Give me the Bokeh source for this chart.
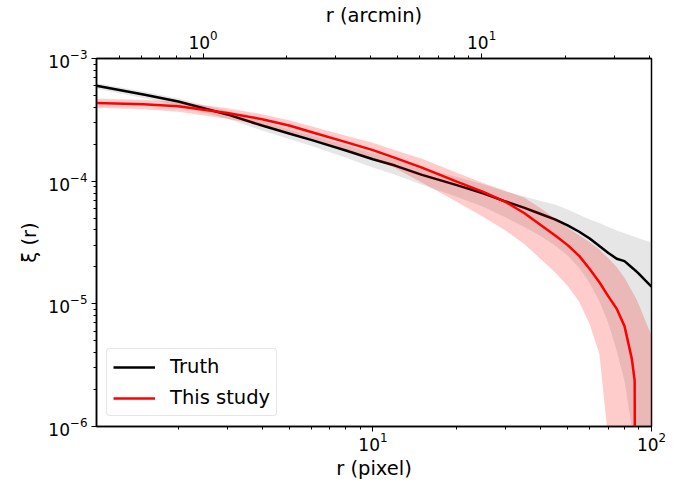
from bokeh.plotting import figure
from bokeh.models import (Range1d, LogAxis, LogScale, FixedTicker, LogTickFormatter,
                          Legend, LegendItem, ColumnDataSource)
from bokeh.embed import file_html
from bokeh.resources import INLINE

# ---- data ----
PIX_PER_ARCMIN = 2.455
r_pixel = [1.0175, 1.5, 2, 3, 4, 5, 6, 8, 10, 12, 15, 20, 25, 30, 35, 40, 45, 50,
           55, 60, 65, 70, 75, 80, 85, 87, 88, 90, 95, 100]
truth = [5.99e-4, 5.08e-4, 4.46e-4, 3.50e-4, 2.84e-4, 2.45e-4, 2.17e-4, 1.78e-4,
         1.51e-4, 1.34e-4, 1.125e-4, 9.28e-5, 7.93e-5, 6.82e-5, 6.05e-5, 5.40e-5,
         4.88e-5, 4.36e-5, 3.87e-5, 3.41e-5, 2.96e-5, 2.60e-5, 2.33e-5, 2.23e-5,
         1.98e-5, 1.89e-5, 1.85e-5, 1.76e-5, 1.55e-5, 1.38e-5]
truth_lo = [5.67e-4, 4.76e-4, 4.14e-4, 3.22e-4, 2.59e-4, 2.21e-4, 1.94e-4, 1.55e-4,
            1.29e-4, 1.13e-4, 9.33e-5, 7.48e-5, 6.15e-5, 5.05e-5, 4.24e-5, 3.58e-5,
            3.00e-5, 2.48e-5, 1.97e-5, 1.47e-5, 1.05e-5, 6.99e-6, 4.15e-6, 2.35e-6,
            9.85e-7, 5.3e-7, 1e-9, 1e-9, 1e-9, 1e-9]
truth_hi = [6.28e-4, 5.38e-4, 4.71e-4, 3.74e-4, 3.06e-4, 2.64e-4, 2.36e-4, 1.96e-4,
            1.68e-4, 1.50e-4, 1.28e-4, 1.08e-4, 9.38e-5, 8.23e-5, 7.51e-5, 6.90e-5,
            6.46e-5, 5.88e-5, 5.33e-5, 4.88e-5, 4.55e-5, 4.24e-5, 3.97e-5, 3.76e-5,
            3.59e-5, 3.52e-5, 3.49e-5, 3.43e-5, 3.28e-5, 3.16e-5]
study = [4.33e-4, 4.24e-4, 4.08e-4, 3.60e-4, 3.20e-4, 2.84e-4, 2.52e-4, 2.08e-4,
         1.79e-4, 1.55e-4, 1.29e-4, 9.93e-5, 8.14e-5, 6.75e-5, 5.48e-5, 4.39e-5,
         3.63e-5, 3.01e-5, 2.46e-5, 1.92e-5, 1.50e-5, 1.15e-5, 9.12e-6, 6.58e-6,
         3.56e-6, 2.37e-6, 1e-9, 1e-9, 1e-9, 1e-9]
study_lo = [3.97e-4, 3.86e-4, 3.68e-4, 3.23e-4, 2.86e-4, 2.51e-4, 2.22e-4, 1.80e-4,
            1.54e-4, 1.28e-4, 9.70e-5, 6.81e-5, 5.09e-5, 3.95e-5, 3.06e-5, 2.32e-5,
            1.81e-5, 1.40e-5, 1.04e-5, 6.83e-6, 3.90e-6, 7.7e-7, 1e-9, 1e-9,
            1e-9, 1e-9, 1e-9, 1e-9, 1e-9, 1e-9]
study_hi = [4.70e-4, 4.61e-4, 4.44e-4, 3.93e-4, 3.51e-4, 3.14e-4, 2.80e-4, 2.35e-4,
            2.06e-4, 1.79e-4, 1.52e-4, 1.17e-4, 9.63e-5, 8.31e-5, 7.34e-5, 6.02e-5,
            4.97e-5, 4.18e-5, 3.63e-5, 3.18e-5, 2.77e-5, 2.35e-5, 2.00e-5, 1.63e-5,
            1.28e-5, 1.16e-5, 1.11e-5, 9.93e-6, 7.31e-6, 5.52e-6]

x_major = [10, 100]
x_minor = [2, 3, 4, 5, 6, 7, 8, 9, 20, 30, 40, 50, 60, 70, 80, 90]
top_major = [1, 10]
top_minor = [0.5, 0.6, 0.7, 0.8, 0.9, 2, 3, 4, 5, 6, 7, 8, 9, 20, 30, 40]
y_major = [1e-6, 1e-5, 1e-4, 1e-3]
y_minor = [m * 10.0 ** e for e in (-6, -5, -4) for m in range(2, 10)]

FONT = "DejaVu Sans"

src = ColumnDataSource(dict(r=r_pixel, truth=truth, tlo=truth_lo, thi=truth_hi,
                            study=study, slo=study_lo, shi=study_hi))

p = figure(x_axis_type="log", y_axis_type="log",
           x_range=Range1d(r_pixel[0], r_pixel[-1]), y_range=Range1d(1e-6, 1e-3),
           frame_width=555, frame_height=368,
           min_border_left=96, min_border_right=25, min_border_top=50, min_border_bottom=50,
           output_backend="svg", toolbar_location=None)
p.background_fill_color = "white"
p.border_fill_color = "white"
p.xgrid.visible = False
p.ygrid.visible = False
p.outline_line_color = "black"
p.outline_line_width = 1.5
p.outline_line_alpha = 1.0

bottom = p.below[0]
left = p.left[0]

p.extra_x_ranges = {"arcmin": Range1d(r_pixel[0] / PIX_PER_ARCMIN, r_pixel[-1] / PIX_PER_ARCMIN)}
p.extra_x_scales = {"arcmin": LogScale()}
top = LogAxis(x_range_name="arcmin", axis_label="r (arcmin)")
p.add_layout(top, "above")

bottom.ticker = FixedTicker(ticks=x_major, minor_ticks=x_minor)
top.ticker = FixedTicker(ticks=top_major, minor_ticks=top_minor)
left.ticker = FixedTicker(ticks=y_major, minor_ticks=y_minor)
bottom.axis_label = "r (pixel)"
left.axis_label = "ξ (r)"

for ax in [bottom, left, top]:
    ax.formatter = LogTickFormatter()
    ax.axis_line_width = 1.5
    ax.axis_line_color = "black"
    ax.major_tick_line_color = "black"
    ax.minor_tick_line_color = "black"
    ax.major_tick_line_width = 1
    ax.minor_tick_line_width = 1
    ax.major_tick_in = 0
    ax.major_tick_out = 5
    ax.minor_tick_in = 0
    ax.minor_tick_out = 3
    ax.major_label_text_font = FONT
    ax.major_label_text_font_size = "17px"
    ax.major_label_text_color = "black"
    ax.major_label_standoff = 4
    ax.axis_label_text_font = FONT
    ax.axis_label_text_font_size = "19.5px"
    ax.axis_label_text_font_style = "normal"
    ax.axis_label_text_color = "black"
    ax.axis_label_standoff = 4

bottom.major_label_standoff = 0
bottom.axis_label_standoff = 3
top.major_label_standoff = 5
top.axis_label_standoff = 0

p.varea(x="r", y1="tlo", y2="thi", source=src, fill_color="gray", fill_alpha=0.2)
l_truth = p.line(x="r", y="truth", source=src, line_color="black", line_width=2.5)
p.varea(x="r", y1="slo", y2="shi", source=src, fill_color="red", fill_alpha=0.2)
l_study = p.line(x="r", y="study", source=src, line_color="red", line_width=2.5)

legend = Legend(items=[LegendItem(label="Truth", renderers=[l_truth]),
                       LegendItem(label="This study", renderers=[l_study])],
                location="bottom_left")
legend.label_text_font = FONT
legend.label_text_font_size = "19.5px"
legend.label_text_color = "black"
legend.border_line_color = "#cccccc"
legend.border_line_width = 1
legend.background_fill_color = "white"
legend.background_fill_alpha = 0.8
legend.glyph_width = 42
legend.glyph_height = 20
legend.label_height = 20
legend.label_standoff = 15
legend.padding = 6
legend.spacing = 8
legend.margin = 10
try:
    legend.border_radius = 4
except Exception:
    pass
p.add_layout(legend)

open("out.html", "w").write(file_html(p, INLINE))
